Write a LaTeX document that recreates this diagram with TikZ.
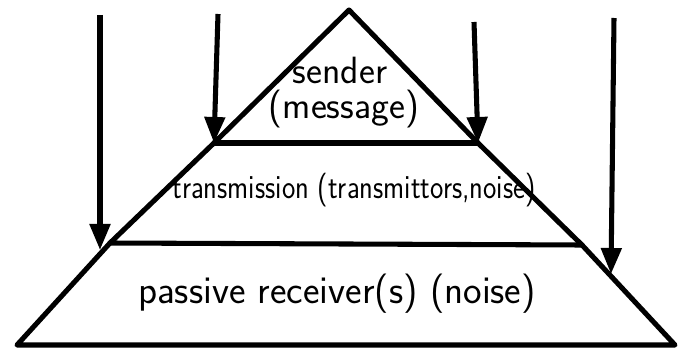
\documentclass[tikz,border=0pt]{standalone}
\usepackage{graphicx}
\usepackage{tikz}
\usetikzlibrary{arrows.meta}
\tikzset{
    layer/.style={
        line width=3.6pt,
        line cap=round,
        line join=round
    },
    influence/.style={
        line width=3.6pt,
        -{Triangle[length=6.5mm, width=5mm]}
    },
    big/.style={font=\sffamily\fontsize{27}{30}\selectfont},
    narrow/.style={font=\sffamily\fontsize{24}{28}\selectfont}
}

\begin{document}
\begin{tikzpicture}[x=0.025cm, y=-0.025cm]
  \useasboundingbox (0,0) rectangle (678,354);

  % Corners of the pyramid
  \coordinate (apex) at (349,10);
  \coordinate (l1) at (214,143);
  \coordinate (r1) at (478,143);
  \coordinate (l2) at (110,243);
  \coordinate (r2) at (582,245);
  \coordinate (l3) at (17,345);
  \coordinate (r3) at (675,345);

  % Outline and layer lines
  \draw[layer] (apex) -- (l1) -- (l2) -- (l3) -- (r3) -- (r2) -- (r1) -- cycle;
  \draw[layer] (l1) -- (r1);
  \draw[layer] (l2) -- (r2);

  % Layer texts
  \node[big] (sender) at (340,70) {sender};
  \node[big] (message) at (344,109) {(message)};
  \node[narrow] (transmission) at (354,190)
    {\scalebox{0.84}[1]{transmission (transmittors,noise)}};
  \node[big] (receiver) at (337,294) {\fontsize{28}{30}\selectfont passive receiver(s) (noise)};

  % Upper ends of the arrows
  \coordinate (t1) at (100,15);
  \coordinate (t2) at (218,14);
  \coordinate (t3) at (474,22);
  \coordinate (t4) at (614,18);
  \coordinate (e1) at (100,250);
  \coordinate (e4) at (611,274);

  % Arrows from above
  \draw[influence] (t1) -- (e1);
  \draw[influence] (t2) -- (l1);
  \draw[influence] (t3) -- (r1);
  \draw[influence] (t4) -- (e4);
\end{tikzpicture}
\end{document}
